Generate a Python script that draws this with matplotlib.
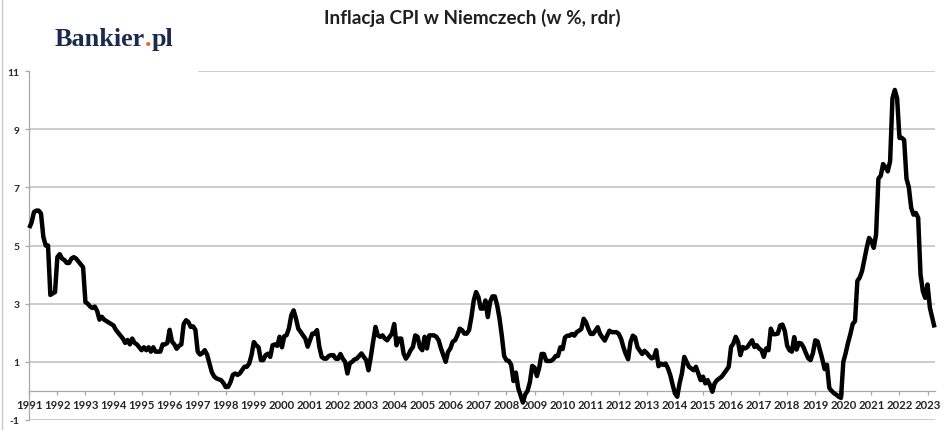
import matplotlib
matplotlib.use("Agg")
import matplotlib.pyplot as plt
import numpy as np

# ---------------- data (y/y CPI, %, monthly) ----------------
y1991 = [5.6, 5.8, 6.15, 6.2, 6.2, 6.1, 5.3, 5.0, 5.0, 3.3, 3.35, 3.4]
y1992 = [4.6, 4.7, 4.55, 4.5, 4.4, 4.4, 4.55, 4.6, 4.55, 4.45, 4.35, 4.25]
y1993 = [3.05, 3.0, 2.9, 2.85, 2.9, 2.75, 2.45, 2.55, 2.45, 2.4, 2.35, 2.3]
y1994 = [2.25, 2.1, 2.0, 1.9, 1.8, 1.65, 1.75, 1.6, 1.8, 1.65, 1.6, 1.5]
y1995 = [1.4, 1.5, 1.4, 1.5, 1.35, 1.5, 1.35, 1.35, 1.35, 1.6, 1.6, 1.65]
y1996 = [2.1, 1.7, 1.6, 1.45, 1.55, 1.6, 2.3, 2.43, 2.37, 2.2, 2.22, 2.1]
y1997 = [1.35, 1.25, 1.3, 1.4, 1.25, 0.95, 0.65, 0.5, 0.43, 0.4, 0.37, 0.27]
y1998 = [0.13, 0.14, 0.3, 0.55, 0.6, 0.55, 0.6, 0.72, 0.83, 0.83, 0.94, 1.23]
y1999 = [1.68, 1.57, 1.5, 1.06, 1.06, 1.23, 1.28, 1.17, 1.57, 1.6, 1.55, 1.86]
y2000 = [1.5, 1.88, 1.92, 2.15, 2.6, 2.77, 2.49, 2.14, 2.03, 1.91, 1.8, 1.52]
y2001 = [1.74, 1.97, 1.97, 2.09, 1.51, 1.17, 1.11, 1.11, 1.2, 1.23, 1.23, 1.11]
y2002 = [1.1, 1.27, 1.11, 1.0, 0.6, 0.95, 1.0, 1.08, 1.11, 1.2, 1.29, 1.17]
y2003 = [1.06, 0.71, 1.17, 1.7, 2.2, 1.91, 1.86, 1.91, 1.8, 1.74, 1.86, 1.97]
y2004 = [2.3, 1.57, 1.8, 1.8, 1.29, 1.11, 1.23, 1.4, 1.51, 1.91, 1.86, 1.5]
y2005 = [1.4, 1.86, 1.46, 1.91, 1.91, 1.91, 1.86, 1.74, 1.46, 1.23, 1.0, 1.34]
y2006 = [1.46, 1.69, 1.74, 1.91, 2.14, 2.09, 1.97, 1.97, 2.09, 2.54, 3.11, 3.4]
y2007 = [3.23, 2.83, 2.83, 3.11, 2.54, 3.06, 3.25, 3.25, 2.95, 2.5, 1.9, 1.2]
y2008 = [1.05, 1.03, 0.9, 0.34, 0.63, 0.1, -0.15, -0.4, -0.12, 0.0, 0.3, 0.86]
y2009 = [0.8, 0.51, 0.8, 1.27, 1.27, 1.03, 1.03, 1.03, 1.09, 1.2, 1.2, 1.5]
y2010 = [1.44, 1.84, 1.9, 1.9, 1.96, 1.9, 2.02, 2.07, 2.13, 2.48, 2.36, 2.13]
y2011 = [1.96, 1.96, 2.07, 2.19, 1.96, 1.84, 1.73, 1.9, 2.07, 2.02, 2.02, 2.02]
y2012 = [1.96, 1.79, 1.5, 1.27, 1.09, 1.67, 1.9, 1.84, 1.5, 1.38, 1.27, 1.38]
y2013 = [1.3, 1.2, 1.12, 1.15, 1.4, 0.85, 0.94, 0.9, 0.94, 0.78, 0.55, 0.22]
y2014 = [-0.08, -0.2, 0.26, 0.6, 1.17, 1.0, 0.83, 0.77, 0.71, 0.83, 0.6, 0.37]
y2015 = [0.49, 0.26, 0.37, 0.2, -0.03, 0.26, 0.37, 0.43, 0.49, 0.6, 0.71, 0.83]
y2016 = [1.51, 1.63, 1.86, 1.69, 1.23, 1.51, 1.46, 1.51, 1.63, 1.74, 1.51, 1.57]
y2017 = [1.46, 1.4, 1.17, 1.46, 1.4, 2.14, 1.95, 1.95, 1.97, 2.25, 2.28, 2.05]
y2018 = [1.55, 1.4, 1.35, 1.85, 1.42, 1.65, 1.63, 1.5, 1.3, 1.12, 1.06, 1.3]
y2019 = [1.74, 1.7, 1.4, 1.1, 0.75, 0.9, 0.1, 0.0, -0.08, -0.13, -0.2, -0.24]
y2020 = [1.0, 1.3, 1.65, 1.95, 2.3, 2.4, 3.78, 3.9, 4.12, 4.52, 4.92, 5.26]
y2021 = [5.15, 4.92, 5.38, 7.3, 7.4, 7.8, 7.7, 7.55, 7.9, 10.06, 10.35, 10.06]
y2022 = [8.7, 8.7, 8.63, 7.3, 7.0, 6.3, 6.06, 6.12, 5.95, 4.0, 3.43, 3.2]
y2023 = [3.66, 2.86, 2.52, 2.18]

years = list(range(1991, 2024))
year_labels = [str(y) for y in years]
y_ticks = [-1, 1, 3, 5, 7, 9, 11]

series = (y1991 + y1992 + y1993 + y1994 + y1995 + y1996 + y1997 + y1998 + y1999 +
          y2000 + y2001 + y2002 + y2003 + y2004 + y2005 + y2006 + y2007 + y2008 +
          y2009 + y2010 + y2011 + y2012 + y2013 + y2014 + y2015 + y2016 + y2017 +
          y2018 + y2019 + y2020 + y2021 + y2022 + y2023)
xs = 1991 + np.arange(len(series)) / 12.0

title = "Inflacja CPI w Niemczech (w %, rdr)"

# ---------------- figure ----------------
W, H = 948, 431
fig = plt.figure(figsize=(W / 100, H / 100), dpi=100)
fig.patch.set_facecolor("white")

x0px, x1px = 29.3, 935.0
ytop, ybot = 72.0, 421.0
px_per_year = 28.07
ax = fig.add_axes([x0px / W, (H - ybot) / H, (x1px - x0px) / W, (ybot - ytop) / H])
ax.set_xlim(1991, 1991 + (x1px - x0px) / px_per_year)
ax.set_ylim(-1, 11)

grid_c = "#c4c4c4"
for v in [-1, 1, 3, 5, 7, 9]:
    ax.axhline(v, color=grid_c, lw=1.2, zorder=0)
ax.axhline(11, xmin=(199 - x0px) / (x1px - x0px), color=grid_c, lw=1.2, zorder=0)

ax.plot(xs, series, color="black", lw=3.2, solid_joinstyle="round",
        solid_capstyle="butt", clip_on=False, zorder=3)

for s in ["top", "right"]:
    ax.spines[s].set_visible(False)
ax.spines["left"].set_color("#a8a8a8")
ax.spines["left"].set_linewidth(0.9)
ax.spines["bottom"].set_position(("data", 0))
ax.spines["bottom"].set_color("#a8a8a8")
ax.spines["bottom"].set_linewidth(0.9)

ax.set_xticks(years)
ax.set_xticklabels(year_labels)
ax.set_yticks(y_ticks)
ax.set_yticklabels([str(v) for v in y_ticks])
ax.tick_params(axis="x", direction="out", length=3, width=0.9, color="#a8a8a8",
               pad=3.0, labelsize=8.2, labelcolor="#262626")
ax.tick_params(axis="y", direction="out", length=3, width=0.9, color="#a8a8a8",
               pad=4, labelsize=7.4, labelcolor="#262626")
for lab in ax.get_xticklabels() + ax.get_yticklabels():
    lab.set_fontfamily("Lato")
    lab.set_fontweight("bold")

fig.text(0.498, (H - 18) / H, title, ha="center", va="center", fontsize=13.6,
         fontweight="bold", family="Lato", color="#1f1f1f")

# left border line of the image
fig.add_artist(plt.Line2D([1.5 / W, 1.5 / W], [0, 1], color="#c8c8c8", lw=1.0,
                          transform=fig.transFigure))

# logo Bankier.pl
navy = "#1c2b4b"
base_y = (H - 46.5) / H
t1 = fig.text(55 / W, base_y, "Bankier", ha="left", va="baseline", fontsize=18.8,
              fontweight="bold", family="Liberation Serif", color=navy)
fig.canvas.draw()
r = fig.canvas.get_renderer()
bb = t1.get_window_extent(r)
t2 = fig.text(bb.x1 / W, base_y, ".", ha="left", va="baseline", fontsize=18.8,
              fontweight="bold", family="Liberation Serif", color="#e4672a")
bb2 = t2.get_window_extent(r)
fig.text(bb2.x1 / W, base_y, "pl", ha="left", va="baseline", fontsize=18.8,
         fontweight="bold", family="Liberation Serif", color=navy)

fig.savefig("out.png", dpi=100, facecolor="white")
